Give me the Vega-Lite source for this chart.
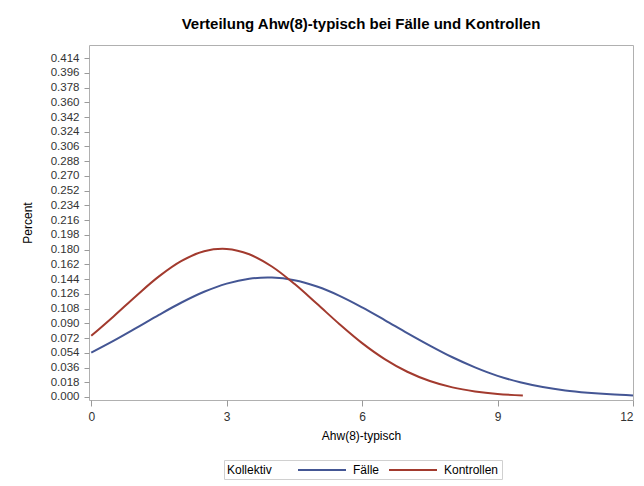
{
  "$schema": "https://vega.github.io/schema/vega-lite/v6.json",
  "width": 544,
  "height": 355,
  "autosize": {"type": "none"},
  "padding": {"left": 89, "top": 45, "right": 11, "bottom": 86},
  "background": "white",
  "title": {
    "text": "Verteilung Ahw(8)-typisch bei Fälle und Kontrollen",
    "anchor": "middle",
    "font": "Liberation Sans",
    "fontSize": 15,
    "fontWeight": "bold",
    "color": "#000000",
    "offset": 13
  },
  "data": {
    "values": [
      {"x": 0, "y": 0.0542, "k": "Fälle"},
      {"x": 0.5, "y": 0.0688, "k": "Fälle"},
      {"x": 1, "y": 0.0844, "k": "Fälle"},
      {"x": 1.5, "y": 0.1003, "k": "Fälle"},
      {"x": 2, "y": 0.1154, "k": "Fälle"},
      {"x": 2.5, "y": 0.1285, "k": "Fälle"},
      {"x": 3, "y": 0.1385, "k": "Fälle"},
      {"x": 3.5, "y": 0.1445, "k": "Fälle"},
      {"x": 4, "y": 0.1459, "k": "Fälle"},
      {"x": 4.5, "y": 0.1427, "k": "Fälle"},
      {"x": 5, "y": 0.1349, "k": "Fälle"},
      {"x": 5.5, "y": 0.1236, "k": "Fälle"},
      {"x": 6, "y": 0.1095, "k": "Fälle"},
      {"x": 6.5, "y": 0.0940, "k": "Fälle"},
      {"x": 7, "y": 0.0781, "k": "Fälle"},
      {"x": 7.5, "y": 0.0628, "k": "Fälle"},
      {"x": 8, "y": 0.0485, "k": "Fälle"},
      {"x": 8.5, "y": 0.0362, "k": "Fälle"},
      {"x": 9, "y": 0.0258, "k": "Fälle"},
      {"x": 9.5, "y": 0.0180, "k": "Fälle"},
      {"x": 10, "y": 0.0122, "k": "Fälle"},
      {"x": 10.5, "y": 0.0080, "k": "Fälle"},
      {"x": 11, "y": 0.0052, "k": "Fälle"},
      {"x": 11.5, "y": 0.0032, "k": "Fälle"},
      {"x": 12, "y": 0.0019, "k": "Fälle"},
      {"x": 0, "y": 0.0747, "k": "Kontrollen"},
      {"x": 0.5, "y": 0.0987, "k": "Kontrollen"},
      {"x": 1, "y": 0.1238, "k": "Kontrollen"},
      {"x": 1.5, "y": 0.1473, "k": "Kontrollen"},
      {"x": 2, "y": 0.1662, "k": "Kontrollen"},
      {"x": 2.5, "y": 0.1780, "k": "Kontrollen"},
      {"x": 3, "y": 0.1808, "k": "Kontrollen"},
      {"x": 3.5, "y": 0.1743, "k": "Kontrollen"},
      {"x": 4, "y": 0.1594, "k": "Kontrollen"},
      {"x": 4.5, "y": 0.1382, "k": "Kontrollen"},
      {"x": 5, "y": 0.1138, "k": "Kontrollen"},
      {"x": 5.5, "y": 0.0889, "k": "Kontrollen"},
      {"x": 6, "y": 0.0658, "k": "Kontrollen"},
      {"x": 6.5, "y": 0.0463, "k": "Kontrollen"},
      {"x": 7, "y": 0.0308, "k": "Kontrollen"},
      {"x": 7.5, "y": 0.0195, "k": "Kontrollen"},
      {"x": 8, "y": 0.0117, "k": "Kontrollen"},
      {"x": 8.5, "y": 0.0067, "k": "Kontrollen"},
      {"x": 9, "y": 0.0036, "k": "Kontrollen"},
      {"x": 9.56, "y": 0.0018, "k": "Kontrollen"}
    ]
  },
  "mark": {"type": "line", "strokeWidth": 2, "interpolate": "catmull-rom"},
  "encoding": {
    "x": {
      "field": "x",
      "type": "quantitative",
      "scale": {"domain": [-0.05, 12], "nice": false, "zero": false},
      "axis": {
        "title": "Ahw(8)-typisch",
        "values": [0, 3, 6, 9, 12],
        "grid": false,
        "domain": false,
        "tickColor": "#9a9a9a",
        "tickSize": 6,
        "labelFont": "Liberation Sans",
        "labelFontSize": 12,
        "labelColor": "#333333",
        "labelPadding": 5,
        "titleFont": "Liberation Sans",
        "titleFontSize": 12,
        "titleFontWeight": "normal",
        "titleColor": "#000000",
        "titlePadding": 8
      }
    },
    "y": {
      "field": "y",
      "type": "quantitative",
      "scale": {"domain": [-0.0037, 0.43], "nice": false, "zero": false},
      "axis": {
        "title": "Percent",
        "values": [0, 0.018, 0.036, 0.054, 0.072, 0.09, 0.108, 0.126, 0.144, 0.162, 0.18, 0.198, 0.216, 0.234, 0.252, 0.27, 0.288, 0.306, 0.324, 0.342, 0.36, 0.378, 0.396, 0.414],
        "format": ".3f",
        "grid": false,
        "domain": false,
        "tickColor": "#9a9a9a",
        "tickSize": 5,
        "labelFont": "Liberation Sans",
        "labelFontSize": 11.5,
        "labelColor": "#333333",
        "labelPadding": 5,
        "labelOverlap": false,
        "titleFont": "Liberation Sans",
        "titleFontSize": 12,
        "titleFontWeight": "normal",
        "titleColor": "#000000",
        "titlePadding": 16
      }
    },
    "color": {
      "field": "k",
      "type": "nominal",
      "scale": {"domain": ["Fälle", "Kontrollen"], "range": ["#445694", "#A23A2E"]},
      "legend": {
        "title": "Kollektiv",
        "orient": "none",
        "legendX": 135,
        "legendY": 415,
        "direction": "horizontal",
        "gridAlign": "none",
        "titleOrient": "left",
        "titleAnchor": "middle",
        "titleBaseline": "middle",
        "titleFont": "Liberation Sans",
        "titleFontSize": 12,
        "titleFontWeight": "normal",
        "titleColor": "#000000",
        "titlePadding": 43,
        "labelFont": "Liberation Sans",
        "labelFontSize": 12,
        "labelColor": "#000000",
        "labelOffset": 24,
        "columnPadding": 5,
        "symbolType": "M-4,0H4",
        "symbolSize": 144,
        "symbolStrokeWidth": 2,
        "strokeColor": "#d0d0d0",
        "padding": 3
      }
    }
  },
  "config": {
    "view": {"stroke": "#b0b0b0", "strokeWidth": 1}
  }
}
